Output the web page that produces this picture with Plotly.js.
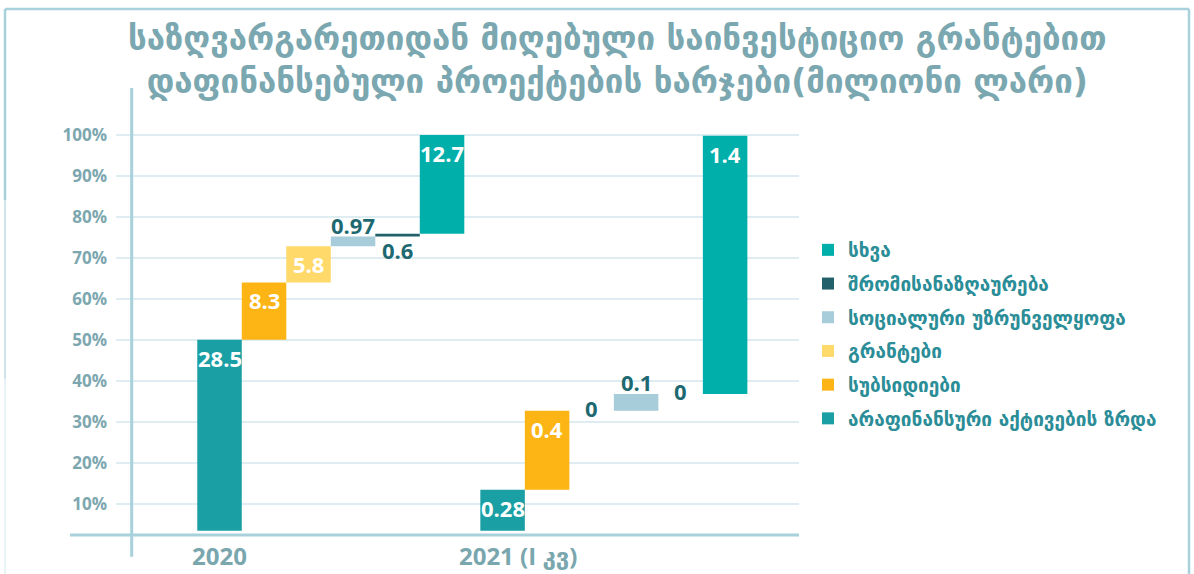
<!DOCTYPE html>
<html>
<head>
<meta charset="utf-8">
<script src="https://cdn.plot.ly/plotly-3.0.1.min.js"></script>
<style>html,body{margin:0;padding:0;background:#fff;}#chart{width:1194px;height:574px;}</style>
</head>
<body>
<div id="chart"></div>
<script>
// ---- data ----
const categories = ['2020', '2021 (I კვ)'];
const seriesNames = ['არაფინანსური აქტივების ზრდა', 'სუბსიდიები', 'გრანტები', 'სოციალური უზრუნველყოფა', 'შრომისანაზღაურება', 'სხვა'];
const values2020 = [28.5, 8.3, 5.8, 0.97, 0.6, 12.7];       // label values, million GEL
const values2021 = [0.28, 0.4, 0, 0.1, 0, 1.4];
const cumPct2020 = [50.0, 64.0, 72.8, 75.2, 75.85, 100];    // cumulative bar ends, %
const cumPct2021 = [13.4, 32.7, 32.7, 36.8, 36.8, 99.8];
const startPct = 3.4;
const yTickVals = [10, 20, 30, 40, 50, 60, 70, 80, 90, 100];
const yTickText = ['10%', '20%', '30%', '40%', '50%', '60%', '70%', '80%', '90%', '100%'];

// ---- styles / layout ----
const colors = ['#1A9FA4', '#FDB515', '#FFD96A', '#A6CDD9', '#22606A', '#00AFAA'];
const groupOffset = [0, 6.36];
const tickPos = [0, 6.71];
const labelPos = [['in', 'in', 'in', 'above', 'below', 'in'], ['in', 'in', 'mid', 'above', 'mid', 'in']];
const values = [values2020, values2021];
const cums = [cumPct2020, cumPct2021];
const labelDark = '#1E6971';
const georgian = 'DejaVu Sans, sans-serif';
const numFont = 'Open Sans, DejaVu Sans, sans-serif';

const traces = seriesNames.map((name, s) => {
  const xs = [], ys = [], bs = [];
  for (let g = 0; g < 2; g++) {
    const start = s === 0 ? startPct : cums[g][s - 1];
    const end = cums[g][s];
    xs.push(groupOffset[g] + s);
    bs.push(start);
    ys.push(end - start);
  }
  return {
    type: 'bar', name: name, x: xs, y: ys, base: bs, width: 1,
    marker: { color: colors[s] }, legendgroup: 'g' + s, legendrank: 1000 - s, hoverinfo: 'skip'
  };
});

const annotations = [];
for (let g = 0; g < 2; g++) {
  for (let s = 0; s < 6; s++) {
    const start = s === 0 ? startPct : cums[g][s - 1];
    const end = cums[g][s];
    const pos = labelPos[g][s];
    const a = {
      x: groupOffset[g] + s, xref: 'x', yref: 'y', showarrow: false,
      text: String(values[g][s]),
      font: { family: numFont, size: 22, weight: 'bold', color: pos === 'in' ? '#FFFFFF' : labelDark }
    };
    if (pos === 'in') { a.y = end; a.yanchor = 'top'; a.yshift = -1; }
    else if (pos === 'above') { a.y = end; a.yanchor = 'bottom'; a.yshift = -5; }
    else if (pos === 'below') { a.y = start; a.yanchor = 'top'; a.yshift = 4; }
    else { a.y = end; a.yanchor = 'middle'; a.yshift = 3; }
    annotations.push(a);
  }
}

const lineCol = '#A8D1DB';
const shapes = [
  // y axis line
  { type: 'line', xref: 'paper', yref: 'paper', x0: 0.023, x1: 0.023, y0: -0.0486, y1: 1.002, line: { color: lineCol, width: 3 } },
  // x axis line
  { type: 'line', xref: 'paper', yref: 'paper', x0: -0.0673, x1: 1.0, y0: 0, y1: 0, line: { color: lineCol, width: 3 } },
  // frame
  { type: 'line', xref: 'paper', yref: 'paper', x0: -0.1625, x1: 1.571, y0: 1.1795, y1: 1.1795, line: { color: lineCol, width: 2.5 } },
  { type: 'line', xref: 'paper', yref: 'paper', x0: 1.571, x1: 1.571, y0: 1.1795, y1: -0.12, line: { color: lineCol, width: 2.5 } },
  { type: 'line', xref: 'paper', yref: 'paper', x0: -0.1625, x1: -0.1625, y0: 1.1795, y1: 0.75, line: { color: lineCol, width: 2.5 } },
  { type: 'line', xref: 'paper', yref: 'paper', x0: -0.1625, x1: -0.1625, y0: 0.75, y1: 0.35, line: { color: '#CDE5EB', width: 2 } },
  { type: 'line', xref: 'paper', yref: 'paper', x0: -0.1625, x1: -0.1625, y0: 0.35, y1: -0.12, line: { color: '#E8F3F6', width: 2 } }
];

const layout = {
  width: 1194, height: 574,
  margin: { l: 116, r: 395, t: 89, b: 39, pad: 0 },
  paper_bgcolor: '#FFFFFF', plot_bgcolor: '#FFFFFF',
  title: {
    text: 'საზღვარგარეთიდან მიღებული საინვესტიციო გრანტებით<br>დაფინანსებული პროექტების ხარჯები(მილიონი ლარი)',
    font: { family: georgian, size: 33, weight: 'bold', color: '#7AA7B0' },
    x: 0.517, xanchor: 'center', xref: 'container',
    y: 1 - 50 / 574, yanchor: 'middle', yref: 'container'
  },
  barmode: 'overlay',
  showlegend: true,
  legend: {
    xref: 'container', yref: 'container', x: 808 / 1194, y: 1 - 231 / 574, xanchor: 'left', yanchor: 'top',
    traceorder: 'grouped', tracegroupgap: 6,
    font: { family: georgian, size: 19, weight: 'bold', color: '#2B8D97' },
    bgcolor: 'rgba(0,0,0,0)'
  },
  xaxis: {
    range: [-2.326, 13.02], tickvals: tickPos, ticktext: categories,
    showgrid: false, zeroline: false, showline: false, ticks: '', ticklabelstandoff: 5,
    tickfont: { family: numFont, size: 24, weight: 'bold', color: '#7AA6AE' },
    fixedrange: true
  },
  yaxis: {
    range: [2.37, 111.2], tickvals: yTickVals, ticktext: yTickText,
    showgrid: true, gridcolor: '#DDEDF2', gridwidth: 2, zeroline: false, showline: false, ticks: '', ticklabelstandoff: 8,
    tickfont: { family: numFont, size: 17, weight: 'bold', color: '#7DA7AF' },
    fixedrange: true
  },
  annotations: annotations,
  shapes: shapes
};

Plotly.newPlot('chart', traces, layout, { displayModeBar: false, staticPlot: true });
</script>
</body>
</html>
